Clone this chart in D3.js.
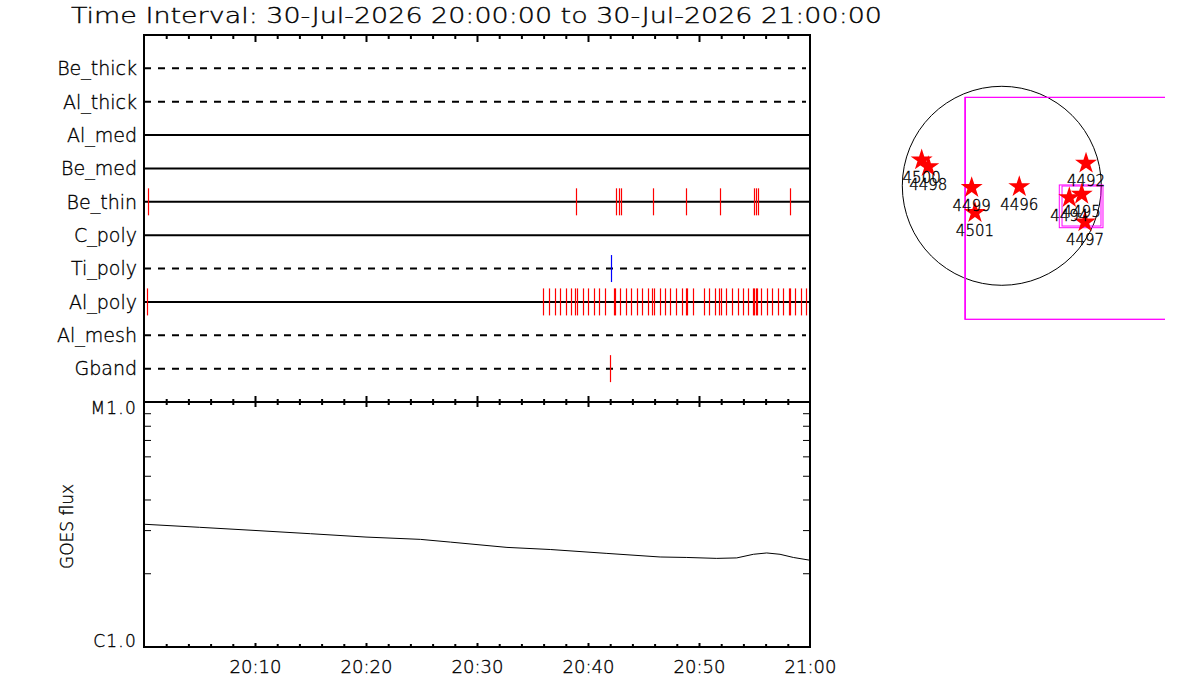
<!DOCTYPE html>
<html>
<head>
<meta charset="utf-8">
<script src="https://cdn.jsdelivr.net/npm/d3@7"></script>
<style>
  body { margin: 0; background: #fff; }
  svg { display: block; }
  text { font-family: 'DejaVu Sans ExtraLight', 'DejaVu Sans', sans-serif; font-weight: 200;
    fill: #000; stroke: #000; stroke-width: 0.35px; }
</style>
</head>
<body>
<div id="chart-area"></div>
<script>
// ---- data ----
const titleText = 'Time Interval: 30-Jul-2026 20:00:00 to 30-Jul-2026 21:00:00'
const startTime = '2026-07-30 20:00:00'
const endTime = '2026-07-30 21:00:00'

const rowNames = ['Be_thick', 'Al_thick', 'Al_med', 'Be_med', 'Be_thin',
  'C_poly', 'Ti_poly', 'Al_poly', 'Al_mesh', 'Gband']
const dashedRows = ['Be_thick', 'Al_thick', 'Ti_poly', 'Al_mesh', 'Gband']

// minutes after 20:00 of each exposure, per filter
const beThinTimes = [0.39, 38.95, 42.55, 42.8, 43.0, 45.9, 48.85, 51.9, 54.98, 55.16, 55.3, 58.2]
const tiPolyTimes = [42.04]
const gbandTimes = [41.95]
const alPolyTimes = [0.24, 35.97, 36.51, 37.05, 37.5, 38.05, 38.5, 38.86, 39.04, 39.58,
  40.03, 40.57, 41.02, 41.56, 42.37, 42.46, 42.91, 43.45, 43.9, 44.44, 44.89, 45.43,
  45.79, 45.97, 46.51, 46.96, 47.43, 47.95, 48.5, 48.86, 48.95, 49.49, 50.48, 50.93,
  51.41, 51.83, 51.95, 52.46, 52.97, 53.49, 53.99, 54.44, 54.84, 54.93, 55.16, 55.25,
  55.61, 56.13, 56.6, 57.09, 57.59, 58.11, 58.2, 58.68, 59.16, 59.67]

const goesMinutes = [0, 5, 10, 15, 20, 24.9, 27.6, 32.7, 36.6, 41.7, 46.5, 48.9, 51.6, 53.4, 54.9, 56.1, 57.3, 58.5, 60]
const goesFlux = [3.17e-6, 3.08e-6, 2.99e-6, 2.9e-6, 2.81e-6, 2.75e-6, 2.68e-6, 2.55e-6, 2.5e-6,
  2.41e-6, 2.33e-6, 2.32e-6, 2.3e-6, 2.31e-6, 2.39e-6, 2.42e-6, 2.39e-6, 2.32e-6, 2.26e-6]
const fluxTickValues = [1e-6, 1e-5]
const fluxTickLabels = ['C1.0', 'M1.0']
const timeTickLabels = ['20:10', '20:20', '20:30', '20:40', '20:50', '21:00']

// active regions on the disk (arcsec from disk centre)
const arNumbers = ['4500', '4498', '4499', '4501', '4496', '4492', '4494', '4495', '4497']
const arX = [-761, -698, -286, -255, 166, 800, 641, 759, 790]
const arY = [245, 181, -18, -255, -9, 214, -113, -81, -344]
const solarRadius = 945
// fields of view [x0, x1, y0, y1] in arcsec
const fovBoxes = [
  [-352, 2400, 840, -1268],
  [-345, 2400, 840, -1268],
  [546, 961, 8, -398],
  [572, 942, -2, -382]
]

// ---- layout ----
const width = 1200
const height = 700
const left = 144
const right = 810
const topY = 35
const midY = 402
const bottomY = 647

const parseTime = d3.timeParse('%Y-%m-%d %H:%M:%S')
const t0 = parseTime(startTime)
const t1 = parseTime(endTime)
const toDate = m => new Date(t0.getTime() + m * 60000)

const svg = d3.select('#chart-area')
  .append('svg')
    .attr('width', width)
    .attr('height', height)

svg.append('text')
  .attr('x', 71)
  .attr('y', 23)
  .attr('font-size', 21)
  .attr('textLength', 811)
  .attr('lengthAdjust', 'spacingAndGlyphs')
  .text(titleText)

const scaleX = d3.scaleTime()
  .domain([t0, t1])
  .range([left, right])

const scaleRow = d3.scalePoint()
  .domain(rowNames)
  .range([topY, midY])
  .padding(1)

// row lines
svg.append('g').selectAll('line').data(rowNames).enter()
  .append('line')
    .attr('x1', left)
    .attr('x2', d => dashedRows.includes(d) ? right - 4 : right)
    .attr('y1', d => scaleRow(d))
    .attr('y2', d => scaleRow(d))
    .attr('stroke', '#000')
    .attr('stroke-width', 2)
    .attr('stroke-dasharray', d => dashedRows.includes(d) ? '7,7' : null)

svg.append('g').selectAll('text').data(rowNames).enter()
  .append('text')
    .attr('x', 137)
    .attr('y', d => scaleRow(d))
    .attr('dy', '0.36em')
    .attr('text-anchor', 'end')
    .attr('font-size', 19)
    .text(d => d)

// exposure ticks
const exposures = [
  { row: 'Be_thin', times: beThinTimes, color: '#ff0000' },
  { row: 'Ti_poly', times: tiPolyTimes, color: '#0000ff' },
  { row: 'Al_poly', times: alPolyTimes, color: '#ff0000' },
  { row: 'Gband', times: gbandTimes, color: '#ff0000' }
]
exposures.forEach(e => {
  svg.append('g').selectAll('line').data(e.times).enter()
    .append('line')
      .attr('x1', d => Math.round(scaleX(toDate(d))) + 0.5)
      .attr('x2', d => Math.round(scaleX(toDate(d))) + 0.5)
      .attr('y1', scaleRow(e.row) - 13.5)
      .attr('y2', scaleRow(e.row) + 13.5)
      .attr('stroke', e.color)
      .attr('stroke-width', 1.2)
})

// GOES panel
const scaleY = d3.scaleLog()
  .domain([1e-6, 1e-5])
  .range([bottomY, midY])

const goes = goesMinutes.map((m, i) => ({ t: toDate(m), f: goesFlux[i] }))
svg.append('path')
  .datum(goes)
  .attr('fill', 'none')
  .attr('stroke', '#000')
  .attr('stroke-width', 1)
  .attr('d', d3.line().x(d => scaleX(d.t)).y(d => scaleY(d.f)))

// time axis ticks
const minorTicks = d3.range(2, 60, 2).filter(m => m % 10 !== 0).map(toDate)
const majorTicks = d3.range(10, 60, 10).map(toDate)

function tickRow (axisFn, y, values, size) {
  const g = svg.append('g')
    .attr('transform', `translate(0, ${y})`)
    .call(axisFn(scaleX).tickValues(values).tickSize(size).tickFormat(''))
  g.select('.domain').remove()
  g.selectAll('line').attr('stroke', '#000').attr('stroke-width', 2)
}
tickRow(d3.axisBottom, topY, minorTicks, 4)
tickRow(d3.axisBottom, topY, majorTicks, 7)
tickRow(d3.axisTop, midY, minorTicks, 3)
tickRow(d3.axisTop, midY, majorTicks, 6)
tickRow(d3.axisBottom, midY, minorTicks, 3)
tickRow(d3.axisBottom, midY, majorTicks, 5)
tickRow(d3.axisTop, bottomY, minorTicks, 3)
tickRow(d3.axisTop, bottomY, majorTicks, 4)

const parseHM = d3.timeParse('%Y-%m-%d %H:%M')
const xLabels = svg.append('g')
  .attr('transform', `translate(0, ${bottomY})`)
  .call(d3.axisBottom(scaleX)
    .tickValues(timeTickLabels.map(s => parseHM('2026-07-30 ' + s)))
    .tickSize(0)
    .tickPadding(13)
    .tickFormat(d3.timeFormat('%H:%M')))
xLabels.select('.domain').remove()
xLabels.selectAll('text')
  .attr('font-family', null)
  .attr('font-size', 18)

// flux axis minor ticks (inside, both sides)
const fluxMinor = d3.range(2, 10).map(k => k * 1e-6)
const yMinorL = svg.append('g')
  .attr('transform', `translate(${left}, 0)`)
  .call(d3.axisRight(scaleY).tickValues(fluxMinor).tickSize(7).tickFormat(''))
yMinorL.select('.domain').remove()
yMinorL.selectAll('line').attr('stroke', '#000')
const yMinorR = svg.append('g')
  .attr('transform', `translate(${right}, 0)`)
  .call(d3.axisLeft(scaleY).tickValues(fluxMinor).tickSize(7).tickFormat(''))
yMinorR.select('.domain').remove()
yMinorR.selectAll('line').attr('stroke', '#000')

svg.append('g').selectAll('text').data(fluxTickValues).enter()
  .append('text')
    .attr('x', 137)
    .attr('y', d => scaleY(d))
    .attr('dy', (d, i) => i === 0 ? 0 : 12)
    .attr('text-anchor', 'end')
    .attr('font-size', 17)
    .attr('letter-spacing', 1.2)
    .text((d, i) => fluxTickLabels[i])

svg.append('text')
  .attr('transform', `translate(73, ${(midY + bottomY) / 2 + 2}) rotate(-90)`)
  .attr('text-anchor', 'middle')
  .attr('font-size', 17)
  .text('GOES flux')

// frames
svg.append('rect')
  .attr('x', left).attr('y', topY)
  .attr('width', right - left).attr('height', midY - topY)
  .attr('fill', 'none').attr('stroke', '#000').attr('stroke-width', 2)
svg.append('rect')
  .attr('x', left).attr('y', midY)
  .attr('width', right - left).attr('height', bottomY - midY)
  .attr('fill', 'none').attr('stroke', '#000').attr('stroke-width', 2)

// ---- solar disk panel ----
const cx = 1001.8
const cy = 185.8
const half = 163.2
const diskX = d3.scaleLinear().domain([-1550, 1550]).range([cx - half, cx + half])
const diskY = d3.scaleLinear().domain([-1550, 1550]).range([cy + half, cy - half])

svg.append('clipPath')
  .attr('id', 'disk-clip')
  .append('rect')
    .attr('x', cx - half).attr('y', cy - half)
    .attr('width', 2 * half).attr('height', 2 * half)

const disk = svg.append('g').attr('clip-path', 'url(#disk-clip)')

disk.append('circle')
  .attr('cx', diskX(0))
  .attr('cy', diskY(0))
  .attr('r', diskX(solarRadius) - diskX(0))
  .attr('fill', 'none')
  .attr('stroke', '#000')
  .attr('stroke-width', 1)

disk.selectAll('rect.fov').data(fovBoxes).enter()
  .append('rect')
    .attr('class', 'fov')
    .attr('x', d => diskX(d[0]))
    .attr('y', d => diskY(d[2]))
    .attr('width', d => diskX(d[1]) - diskX(d[0]))
    .attr('height', d => diskY(d[3]) - diskY(d[2]))
    .attr('fill', 'none')
    .attr('stroke', '#ff00ff')
    .attr('stroke-width', 1)

const star = d3.symbol().type(d3.symbolStar).size(150)
disk.selectAll('path.ar').data(arNumbers).enter()
  .append('path')
    .attr('class', 'ar')
    .attr('transform', (d, i) => `translate(${diskX(arX[i])}, ${diskY(arY[i])})`)
    .attr('d', star)
    .attr('fill', '#ff0000')

disk.selectAll('text.ar').data(arNumbers).enter()
  .append('text')
    .attr('class', 'ar')
    .attr('x', (d, i) => diskX(arX[i]))
    .attr('y', (d, i) => diskY(arY[i]) + 23)
    .attr('text-anchor', 'middle')
    .attr('font-size', 15)
    .text(d => d)
</script>
</body>
</html>
